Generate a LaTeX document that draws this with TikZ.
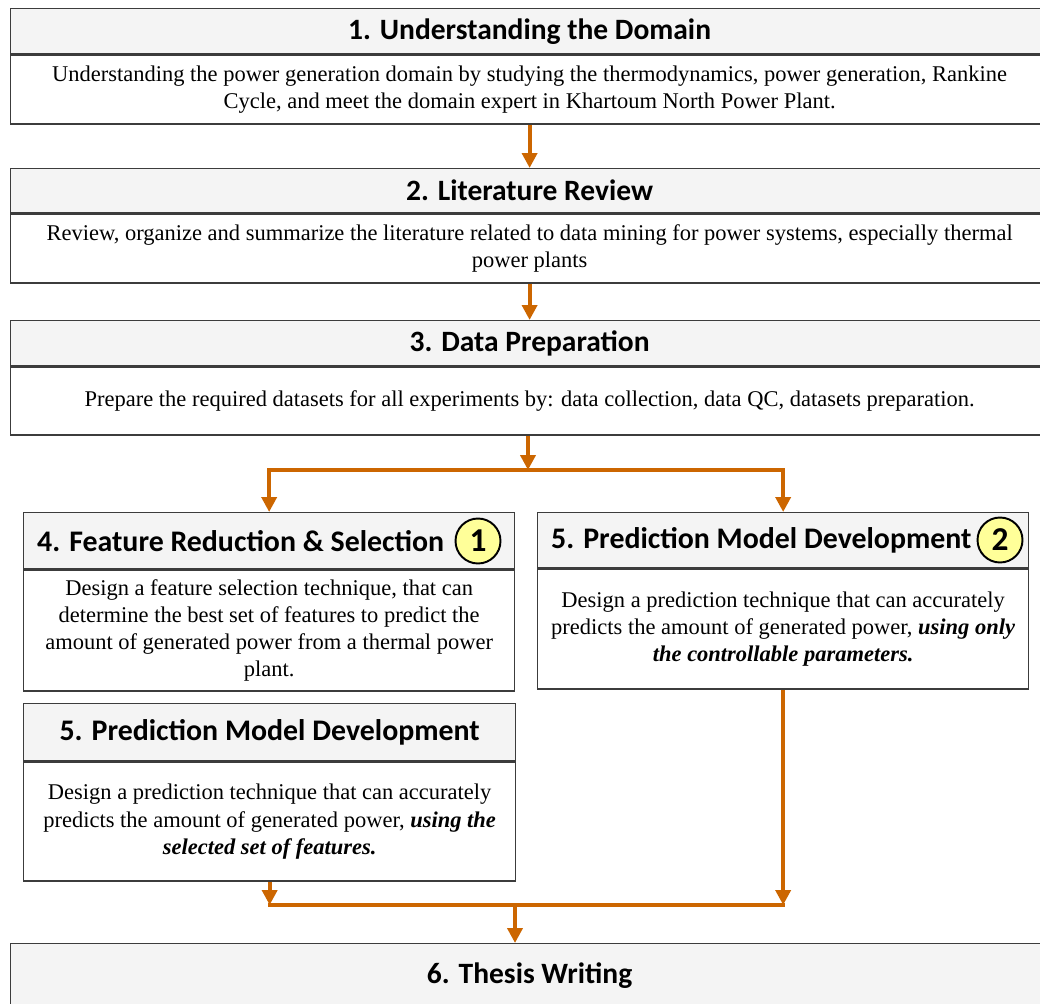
\documentclass[tikz,border=0pt]{standalone}
\usepackage{fontspec}
\setmainfont{Liberation Serif}
\newfontfamily\headfont{Carlito}
\usetikzlibrary{arrows.meta}
\definecolor{flowC}{RGB}{204,102,0}
\definecolor{headC}{RGB}{244,244,244}
\definecolor{rimC}{RGB}{60,60,60}
\definecolor{badgeC}{RGB}{255,255,153}
\newcommand{\WF}{20.76cm}
\newcommand{\WH}{9.82cm}

\begin{document}
\begin{tikzpicture}[
    x=0.02cm, y=-0.02cm,
    head/.style={draw=rimC, line width=0.8pt, fill=headC, anchor=north west, inner sep=0pt,
      font=\headfont\bfseries\fontsize{16.8}{20}\selectfont},
    bighead/.style={head, font=\headfont\bfseries\fontsize{17}{20}\selectfont},
    lefthead/.style={bighead, inner xsep=0.27cm, text width={9.82cm-0.54cm}, align=flush left},
    body/.style={draw=rimC, line width=0.8pt, fill=white, anchor=north west, inner sep=0pt,
      align=center, font=\fontsize{12.8}{15.4}\selectfont},
    badge/.style={circle, draw=black, line width=1.1pt, fill=badgeC, minimum size=0.9cm, inner sep=0pt,
      font=\headfont\bfseries\fontsize{19}{20}\selectfont},
    flow/.style={draw=flowC, line width=0.08cm, -{Triangle[length=0.3cm,width=0.3cm]}},
    link/.style={draw=flowC, line width=0.08cm, line cap=rect},
  ]
  \useasboundingbox (0,0) rectangle (1040,1003);

  %% ================= stages 1--3: full width =================
  \node[head, minimum width=\WF, minimum height=0.9cm] (t1) at (10,8) {1. Understanding the Domain};
  \node[body, minimum width=\WF, minimum height=1.38cm] (b1) at (t1.south west)
    {Understanding the power generation domain by studying the thermodynamics, power generation, Rankine\\
     Cycle, and meet the domain expert in Khartoum North Power Plant.};

  \node[head, minimum width=\WF, minimum height=0.88cm] (t2) at (10,168) {2. Literature Review};
  \node[body, minimum width=\WF, minimum height=1.38cm] (b2) at (t2.south west)
    {Review, organize and summarize the literature related to data mining for power systems, especially thermal\\
     power plants};

  \node[head, minimum width=\WF, minimum height=0.9cm] (t3) at (10,320) {3. Data Preparation};
  \node[body, minimum width=\WF, minimum height=1.36cm] (b3) at (t3.south west)
    {Prepare the required datasets for all experiments by: data collection, data QC, datasets preparation.};

  %% ================= stages 4--5: two branches =================
  \node[lefthead, minimum height=1.12cm] (t4) at (23,512) {4. Feature Reduction \& Selection};
  \node[body, minimum width=\WH, minimum height=2.42cm] (b4) at (t4.south west)
    {Design a feature selection technique, that can\\
     determine the best set of features to predict the\\
     amount of generated power from a thermal power\\
     plant.};
  \node[badge] (n1) at (478,541) {1};

  \node[lefthead, minimum height=1.1cm] (t5) at (537,512) {5. Prediction Model Development};
  \node[body, minimum width=\WH, minimum height=2.4cm] (b5) at (t5.south west)
    {Design a prediction technique that can accurately\\
     predicts the amount of generated power, \textbf{\textit{using only}}\\
     \textbf{\textit{the controllable parameters.}}};
  \node[badge] (n2) at (1000,540) {2};

  \node[bighead, minimum width=9.84cm, minimum height=1.14cm] (t6) at (23,703) {5. Prediction Model Development};
  \node[body, minimum width=9.84cm, minimum height=2.38cm] (b6) at (t6.south west)
    {Design a prediction technique that can accurately\\
     predicts the amount of generated power, \textbf{\textit{using the}}\\
     \textbf{\textit{selected set of features.}}};

  %% ================= stage 6 =================
  \node[head, minimum width=\WF, minimum height=1.28cm] (t7) at (10,943) {6. Thesis Writing};

  %% ================= flow =================
  \draw[flow] (b1.south) -- (t2.north);
  \draw[flow] (b2.south) -- (t3.north);

  \coordinate (split) at (528,470);
  \draw[flow] (split |- b3.south) -- (split);
  \draw[link] (split -| t4.north) -- (split -| t5.north);
  \draw[flow] (split -| t4.north) -- (t4.north);
  \draw[flow] (split -| t5.north) -- (t5.north);

  \coordinate (merge) at (515,905);
  \draw[flow] (b6.south) -- (merge -| b6.south);
  \draw[flow] (b5.south) -- (merge -| b5.south);
  \draw[link] (merge -| b6.south) -- (merge -| b5.south);
  \draw[flow] (merge) -- (merge |- t7.north);

\end{tikzpicture}
\end{document}
